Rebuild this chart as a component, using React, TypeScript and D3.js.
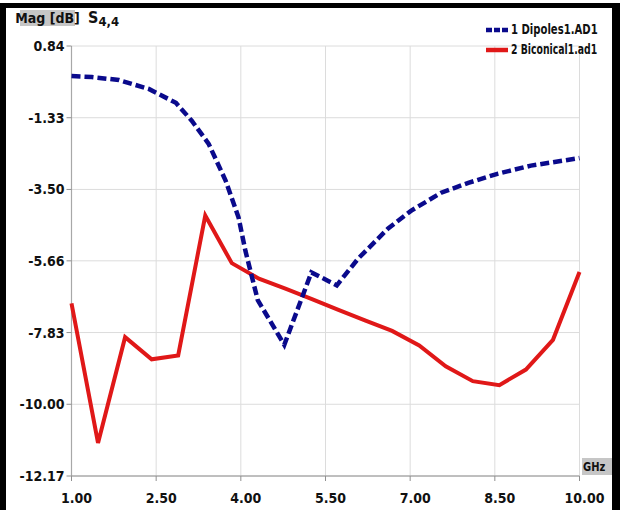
import React from "react";
import * as d3 from "d3";

const xTicks = [1.0, 2.5, 4.0, 5.5, 7.0, 8.5, 10.0];
const yTicks = [0.84, -1.33, -3.5, -5.66, -7.83, -10.0, -12.17];

const dipoleFreq = [1.0, 1.36, 1.84, 2.37, 2.85, 3.13, 3.43, 3.73, 3.96, 4.08, 4.3, 4.77, 5.25, 5.7, 6.08, 6.61, 7.02, 7.55, 8.03, 8.56, 9.14, 10.0];
const dipoleMag = [-0.07, -0.1, -0.19, -0.46, -0.88, -1.42, -2.12, -3.23, -4.35, -5.35, -6.85, -8.2, -6.01, -6.4, -5.59, -4.68, -4.14, -3.6, -3.3, -3.02, -2.78, -2.55];

const biconFreq = [1.0, 1.47, 1.95, 2.42, 2.89, 3.37, 3.84, 4.32, 4.79, 5.26, 5.74, 6.21, 6.68, 7.16, 7.63, 8.11, 8.58, 9.05, 9.53, 10.0];
const biconMag = [-6.95, -11.17, -7.97, -8.64, -8.52, -4.29, -5.73, -6.2, -6.5, -6.82, -7.15, -7.47, -7.78, -8.22, -8.85, -9.3, -9.42, -8.95, -8.05, -6.0];

const seriesNames = ["1 Dipoles1.AD1", "2 Biconical1.ad1"];

const FONT = "'DejaVu Sans Condensed', 'Liberation Sans Narrow', sans-serif";

export default function App() {
  const x = d3.scaleLinear().domain([1, 10]).range([71.5, 579.5]);
  const y = d3.scaleLinear().domain([0.84, -12.17]).range([46, 476]);
  const line = d3
    .line<[number, number]>()
    .x((d) => x(d[0]))
    .y((d) => y(d[1]));
  const dip = line(dipoleFreq.map((f, i) => [f, dipoleMag[i]]) as [number, number][]) || "";
  const bic = line(biconFreq.map((f, i) => [f, biconMag[i]]) as [number, number][]) || "";
  const x0 = x(1), x1 = x(10), y0 = y(0.84), y1 = y(-12.17);

  return (
    <div style={{ position: "absolute", left: 0, top: 0 }}>
      <svg width={620} height={510} style={{ display: "block", background: "#fff" }}>
        {/* grid */}
        {xTicks.map((t) => (
          <line key={"gx" + t} x1={x(t)} x2={x(t)} y1={y0} y2={y1} stroke="#dcdcdc" strokeWidth={1} />
        ))}
        {yTicks.map((t) => (
          <line key={"gy" + t} x1={x0} x2={x1} y1={y(t)} y2={y(t)} stroke="#dcdcdc" strokeWidth={1} />
        ))}
        {/* axes */}
        <line x1={x0} x2={x0} y1={y0} y2={y1} stroke="#a8a8a8" strokeWidth={1.2} />
        <line x1={x0} x2={x1} y1={y1} y2={y1} stroke="#909090" strokeWidth={1.2} />
        {yTicks.map((t) => (
          <g key={"ty" + t}>
            <line x1={x0 - 5} x2={x0} y1={y(t)} y2={y(t)} stroke="#909090" />
            <text x={x0 - 7} y={y(t) + 5} textAnchor="end" fontFamily={FONT} fontWeight="bold" fontSize={14} fill="#111">
              {t.toFixed(2)}
            </text>
          </g>
        ))}
        {xTicks.map((t) => (
          <g key={"tx" + t}>
            <line x1={x(t)} x2={x(t)} y1={y1} y2={y1 + 5} stroke="#909090" />
            <text x={x(t) + 5} y={503} textAnchor="middle" fontFamily={FONT} fontWeight="bold" fontSize={14} fill="#111">
              {t.toFixed(2)}
            </text>
          </g>
        ))}
        {/* series */}
        <path d={bic} fill="none" stroke="#e01818" strokeWidth={4} strokeLinejoin="miter" />
        <path d={dip} fill="none" stroke="#0a0a8c" strokeWidth={4.5} strokeDasharray="9,4" />
        {/* labels */}
        <rect x={20} y={10} width={55} height={16} fill="#c6c6c6" />
        <text x={47.5} y={23} textAnchor="middle" fontFamily={FONT} fontWeight="bold" fontSize={14} fill="#111">
          Mag [dB]
        </text>
        <text x={88} y={23} fontFamily={FONT} fontWeight="bold" fontSize={16} fill="#111">
          S
          <tspan fontSize={13} dy={3}>4,4</tspan>
        </text>
        <rect x={582} y={458} width={30} height={17} fill="#c6c6c6" />
        <g transform="translate(583,471) scale(0.85,1)">
          <text x={0} y={0} fontFamily={FONT} fontWeight="bold" fontSize={13} fill="#111">
            GHz
          </text>
        </g>
        {/* legend */}
        <line x1={486} x2={508} y1={30} y2={30} stroke="#0a0a8c" strokeWidth={4.5} strokeDasharray="6,2" />
        <g transform="translate(511,34) scale(0.8,1)">
          <text x={0} y={0} fontFamily={FONT} fontWeight="bold" fontSize={14} fill="#111">
            {seriesNames[0]}
          </text>
        </g>
        <line x1={486} x2={508} y1={50} y2={50} stroke="#e01818" strokeWidth={4.5} />
        <g transform="translate(511,54) scale(0.74,1)">
          <text x={0} y={0} fontFamily={FONT} fontWeight="bold" fontSize={14} fill="#111">
            {seriesNames[1]}
          </text>
        </g>
        {/* frame */}
        <rect x={0} y={3} width={619} height={5} fill="#000" />
        <rect x={0} y={3} width={6} height={507} fill="#000" />
        <rect x={612} y={3} width={8} height={507} fill="#000" />
      </svg>
    </div>
  );
}
